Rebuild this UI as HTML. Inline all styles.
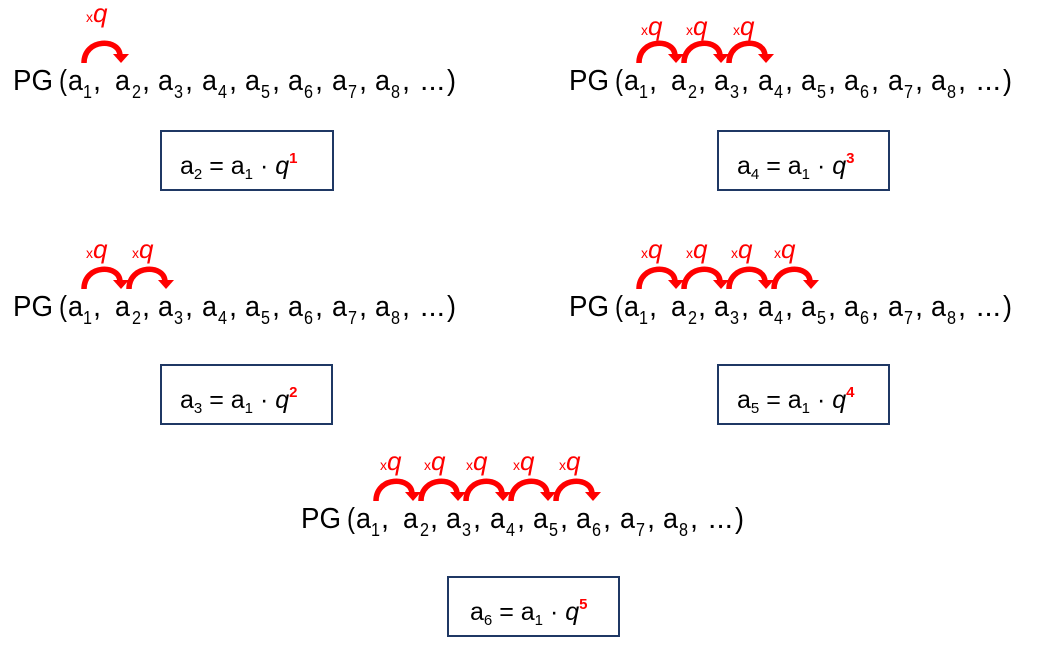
<!DOCTYPE html>
<html><head><meta charset="utf-8"><style>
html,body{margin:0;padding:0;background:#fff;}
svg{display:block;}
text{font-family:"Liberation Sans",Arial,sans-serif;}
</style></head><body>
<svg width="1038" height="666" viewBox="0 0 1038 666" xmlns="http://www.w3.org/2000/svg">
<g fill="#000">
<g transform="translate(12,90)">
<text x="1" y="0" font-size="29" textLength="40" lengthAdjust="spacingAndGlyphs">PG</text>
<text x="47" y="0" font-size="29" textLength="8" lengthAdjust="spacingAndGlyphs">(</text>
<text x="56" y="0" font-size="29" textLength="15" lengthAdjust="spacingAndGlyphs">a</text><text x="71" y="8" font-size="18" textLength="9" lengthAdjust="spacingAndGlyphs">1</text><text x="81" y="0" font-size="29">,</text>
<text x="103" y="0" font-size="29" textLength="15" lengthAdjust="spacingAndGlyphs">a</text><text x="120" y="8" font-size="18" textLength="9" lengthAdjust="spacingAndGlyphs">2</text><text x="130" y="0" font-size="29">,</text>
<text x="146" y="0" font-size="29" textLength="15" lengthAdjust="spacingAndGlyphs">a</text><text x="162" y="8" font-size="18" textLength="9" lengthAdjust="spacingAndGlyphs">3</text><text x="173" y="0" font-size="29">,</text>
<text x="190" y="0" font-size="29" textLength="15" lengthAdjust="spacingAndGlyphs">a</text><text x="206" y="8" font-size="18" textLength="9" lengthAdjust="spacingAndGlyphs">4</text><text x="217" y="0" font-size="29">,</text>
<text x="233" y="0" font-size="29" textLength="15" lengthAdjust="spacingAndGlyphs">a</text><text x="249" y="8" font-size="18" textLength="9" lengthAdjust="spacingAndGlyphs">5</text><text x="260" y="0" font-size="29">,</text>
<text x="276" y="0" font-size="29" textLength="15" lengthAdjust="spacingAndGlyphs">a</text><text x="292" y="8" font-size="18" textLength="9" lengthAdjust="spacingAndGlyphs">6</text><text x="303" y="0" font-size="29">,</text>
<text x="320" y="0" font-size="29" textLength="15" lengthAdjust="spacingAndGlyphs">a</text><text x="336" y="8" font-size="18" textLength="9" lengthAdjust="spacingAndGlyphs">7</text><text x="347" y="0" font-size="29">,</text>
<text x="363" y="0" font-size="29" textLength="15" lengthAdjust="spacingAndGlyphs">a</text><text x="379" y="8" font-size="18" textLength="9" lengthAdjust="spacingAndGlyphs">8</text><text x="390" y="0" font-size="29">,</text>
<text x="408" y="0" font-size="29" textLength="25" lengthAdjust="spacingAndGlyphs">...</text><text x="435" y="0" font-size="29" textLength="9" lengthAdjust="spacingAndGlyphs">)</text>
</g>
<g transform="translate(568,90)">
<text x="1" y="0" font-size="29" textLength="40" lengthAdjust="spacingAndGlyphs">PG</text>
<text x="47" y="0" font-size="29" textLength="8" lengthAdjust="spacingAndGlyphs">(</text>
<text x="56" y="0" font-size="29" textLength="15" lengthAdjust="spacingAndGlyphs">a</text><text x="71" y="8" font-size="18" textLength="9" lengthAdjust="spacingAndGlyphs">1</text><text x="81" y="0" font-size="29">,</text>
<text x="103" y="0" font-size="29" textLength="15" lengthAdjust="spacingAndGlyphs">a</text><text x="120" y="8" font-size="18" textLength="9" lengthAdjust="spacingAndGlyphs">2</text><text x="130" y="0" font-size="29">,</text>
<text x="146" y="0" font-size="29" textLength="15" lengthAdjust="spacingAndGlyphs">a</text><text x="162" y="8" font-size="18" textLength="9" lengthAdjust="spacingAndGlyphs">3</text><text x="173" y="0" font-size="29">,</text>
<text x="190" y="0" font-size="29" textLength="15" lengthAdjust="spacingAndGlyphs">a</text><text x="206" y="8" font-size="18" textLength="9" lengthAdjust="spacingAndGlyphs">4</text><text x="217" y="0" font-size="29">,</text>
<text x="233" y="0" font-size="29" textLength="15" lengthAdjust="spacingAndGlyphs">a</text><text x="249" y="8" font-size="18" textLength="9" lengthAdjust="spacingAndGlyphs">5</text><text x="260" y="0" font-size="29">,</text>
<text x="276" y="0" font-size="29" textLength="15" lengthAdjust="spacingAndGlyphs">a</text><text x="292" y="8" font-size="18" textLength="9" lengthAdjust="spacingAndGlyphs">6</text><text x="303" y="0" font-size="29">,</text>
<text x="320" y="0" font-size="29" textLength="15" lengthAdjust="spacingAndGlyphs">a</text><text x="336" y="8" font-size="18" textLength="9" lengthAdjust="spacingAndGlyphs">7</text><text x="347" y="0" font-size="29">,</text>
<text x="363" y="0" font-size="29" textLength="15" lengthAdjust="spacingAndGlyphs">a</text><text x="379" y="8" font-size="18" textLength="9" lengthAdjust="spacingAndGlyphs">8</text><text x="390" y="0" font-size="29">,</text>
<text x="408" y="0" font-size="29" textLength="25" lengthAdjust="spacingAndGlyphs">...</text><text x="435" y="0" font-size="29" textLength="9" lengthAdjust="spacingAndGlyphs">)</text>
</g>
<g transform="translate(12,316)">
<text x="1" y="0" font-size="29" textLength="40" lengthAdjust="spacingAndGlyphs">PG</text>
<text x="47" y="0" font-size="29" textLength="8" lengthAdjust="spacingAndGlyphs">(</text>
<text x="56" y="0" font-size="29" textLength="15" lengthAdjust="spacingAndGlyphs">a</text><text x="71" y="8" font-size="18" textLength="9" lengthAdjust="spacingAndGlyphs">1</text><text x="81" y="0" font-size="29">,</text>
<text x="103" y="0" font-size="29" textLength="15" lengthAdjust="spacingAndGlyphs">a</text><text x="120" y="8" font-size="18" textLength="9" lengthAdjust="spacingAndGlyphs">2</text><text x="130" y="0" font-size="29">,</text>
<text x="146" y="0" font-size="29" textLength="15" lengthAdjust="spacingAndGlyphs">a</text><text x="162" y="8" font-size="18" textLength="9" lengthAdjust="spacingAndGlyphs">3</text><text x="173" y="0" font-size="29">,</text>
<text x="190" y="0" font-size="29" textLength="15" lengthAdjust="spacingAndGlyphs">a</text><text x="206" y="8" font-size="18" textLength="9" lengthAdjust="spacingAndGlyphs">4</text><text x="217" y="0" font-size="29">,</text>
<text x="233" y="0" font-size="29" textLength="15" lengthAdjust="spacingAndGlyphs">a</text><text x="249" y="8" font-size="18" textLength="9" lengthAdjust="spacingAndGlyphs">5</text><text x="260" y="0" font-size="29">,</text>
<text x="276" y="0" font-size="29" textLength="15" lengthAdjust="spacingAndGlyphs">a</text><text x="292" y="8" font-size="18" textLength="9" lengthAdjust="spacingAndGlyphs">6</text><text x="303" y="0" font-size="29">,</text>
<text x="320" y="0" font-size="29" textLength="15" lengthAdjust="spacingAndGlyphs">a</text><text x="336" y="8" font-size="18" textLength="9" lengthAdjust="spacingAndGlyphs">7</text><text x="347" y="0" font-size="29">,</text>
<text x="363" y="0" font-size="29" textLength="15" lengthAdjust="spacingAndGlyphs">a</text><text x="379" y="8" font-size="18" textLength="9" lengthAdjust="spacingAndGlyphs">8</text><text x="390" y="0" font-size="29">,</text>
<text x="408" y="0" font-size="29" textLength="25" lengthAdjust="spacingAndGlyphs">...</text><text x="435" y="0" font-size="29" textLength="9" lengthAdjust="spacingAndGlyphs">)</text>
</g>
<g transform="translate(568,316)">
<text x="1" y="0" font-size="29" textLength="40" lengthAdjust="spacingAndGlyphs">PG</text>
<text x="47" y="0" font-size="29" textLength="8" lengthAdjust="spacingAndGlyphs">(</text>
<text x="56" y="0" font-size="29" textLength="15" lengthAdjust="spacingAndGlyphs">a</text><text x="71" y="8" font-size="18" textLength="9" lengthAdjust="spacingAndGlyphs">1</text><text x="81" y="0" font-size="29">,</text>
<text x="103" y="0" font-size="29" textLength="15" lengthAdjust="spacingAndGlyphs">a</text><text x="120" y="8" font-size="18" textLength="9" lengthAdjust="spacingAndGlyphs">2</text><text x="130" y="0" font-size="29">,</text>
<text x="146" y="0" font-size="29" textLength="15" lengthAdjust="spacingAndGlyphs">a</text><text x="162" y="8" font-size="18" textLength="9" lengthAdjust="spacingAndGlyphs">3</text><text x="173" y="0" font-size="29">,</text>
<text x="190" y="0" font-size="29" textLength="15" lengthAdjust="spacingAndGlyphs">a</text><text x="206" y="8" font-size="18" textLength="9" lengthAdjust="spacingAndGlyphs">4</text><text x="217" y="0" font-size="29">,</text>
<text x="233" y="0" font-size="29" textLength="15" lengthAdjust="spacingAndGlyphs">a</text><text x="249" y="8" font-size="18" textLength="9" lengthAdjust="spacingAndGlyphs">5</text><text x="260" y="0" font-size="29">,</text>
<text x="276" y="0" font-size="29" textLength="15" lengthAdjust="spacingAndGlyphs">a</text><text x="292" y="8" font-size="18" textLength="9" lengthAdjust="spacingAndGlyphs">6</text><text x="303" y="0" font-size="29">,</text>
<text x="320" y="0" font-size="29" textLength="15" lengthAdjust="spacingAndGlyphs">a</text><text x="336" y="8" font-size="18" textLength="9" lengthAdjust="spacingAndGlyphs">7</text><text x="347" y="0" font-size="29">,</text>
<text x="363" y="0" font-size="29" textLength="15" lengthAdjust="spacingAndGlyphs">a</text><text x="379" y="8" font-size="18" textLength="9" lengthAdjust="spacingAndGlyphs">8</text><text x="390" y="0" font-size="29">,</text>
<text x="408" y="0" font-size="29" textLength="25" lengthAdjust="spacingAndGlyphs">...</text><text x="435" y="0" font-size="29" textLength="9" lengthAdjust="spacingAndGlyphs">)</text>
</g>
<g transform="translate(300,528)">
<text x="1" y="0" font-size="29" textLength="40" lengthAdjust="spacingAndGlyphs">PG</text>
<text x="47" y="0" font-size="29" textLength="8" lengthAdjust="spacingAndGlyphs">(</text>
<text x="56" y="0" font-size="29" textLength="15" lengthAdjust="spacingAndGlyphs">a</text><text x="71" y="8" font-size="18" textLength="9" lengthAdjust="spacingAndGlyphs">1</text><text x="81" y="0" font-size="29">,</text>
<text x="103" y="0" font-size="29" textLength="15" lengthAdjust="spacingAndGlyphs">a</text><text x="120" y="8" font-size="18" textLength="9" lengthAdjust="spacingAndGlyphs">2</text><text x="130" y="0" font-size="29">,</text>
<text x="146" y="0" font-size="29" textLength="15" lengthAdjust="spacingAndGlyphs">a</text><text x="162" y="8" font-size="18" textLength="9" lengthAdjust="spacingAndGlyphs">3</text><text x="173" y="0" font-size="29">,</text>
<text x="190" y="0" font-size="29" textLength="15" lengthAdjust="spacingAndGlyphs">a</text><text x="206" y="8" font-size="18" textLength="9" lengthAdjust="spacingAndGlyphs">4</text><text x="217" y="0" font-size="29">,</text>
<text x="233" y="0" font-size="29" textLength="15" lengthAdjust="spacingAndGlyphs">a</text><text x="249" y="8" font-size="18" textLength="9" lengthAdjust="spacingAndGlyphs">5</text><text x="260" y="0" font-size="29">,</text>
<text x="276" y="0" font-size="29" textLength="15" lengthAdjust="spacingAndGlyphs">a</text><text x="292" y="8" font-size="18" textLength="9" lengthAdjust="spacingAndGlyphs">6</text><text x="303" y="0" font-size="29">,</text>
<text x="320" y="0" font-size="29" textLength="15" lengthAdjust="spacingAndGlyphs">a</text><text x="336" y="8" font-size="18" textLength="9" lengthAdjust="spacingAndGlyphs">7</text><text x="347" y="0" font-size="29">,</text>
<text x="363" y="0" font-size="29" textLength="15" lengthAdjust="spacingAndGlyphs">a</text><text x="379" y="8" font-size="18" textLength="9" lengthAdjust="spacingAndGlyphs">8</text><text x="390" y="0" font-size="29">,</text>
<text x="408" y="0" font-size="29" textLength="25" lengthAdjust="spacingAndGlyphs">...</text><text x="435" y="0" font-size="29" textLength="9" lengthAdjust="spacingAndGlyphs">)</text>
</g>
</g>

<g fill="none" stroke="#f00" stroke-width="5.5">
<path d="M84 63 C84 38 120 38 120 56"/>
<path d="M639 63 C639 38 675 38 675 56"/><path d="M684 63 C684 38 720 38 720 56"/><path d="M729 63 C729 38 765 38 765 56"/>
<path d="M84 289 C84 264 120 264 120 282"/><path d="M129 289 C129 264 165 264 165 282"/>
<path d="M639 289 C639 264 675 264 675 282"/><path d="M684 289 C684 264 720 264 720 282"/><path d="M729 289 C729 264 765 264 765 282"/><path d="M774 289 C774 264 810 264 810 282"/>
<path d="M376 501 C376 476 412 476 412 494"/><path d="M421 501 C421 476 457 476 457 494"/><path d="M466 501 C466 476 502 476 502 494"/><path d="M511 501 C511 476 547 476 547 494"/><path d="M556 501 C556 476 592 476 592 494"/>
</g>
<g fill="#f00">
<polygon points="113,54 129,54 121,63"/>
<polygon points="668,54 684,54 676,63"/><polygon points="713,54 729,54 721,63"/><polygon points="758,54 774,54 766,63"/>
<polygon points="113,280 129,280 121,289"/><polygon points="158,280 174,280 166,289"/>
<polygon points="668,280 684,280 676,289"/><polygon points="713,280 729,280 721,289"/><polygon points="758,280 774,280 766,289"/><polygon points="803,280 819,280 811,289"/>
<polygon points="405,492 421,492 413,501"/><polygon points="450,492 466,492 458,501"/><polygon points="495,492 511,492 503,501"/><polygon points="540,492 556,492 548,501"/><polygon points="585,492 601,492 593,501"/>
</g>
<g fill="#f00" font-size="14">
<text x="86" y="22">x<tspan font-size="26" font-style="italic">q</tspan></text>
<text x="641" y="35">x<tspan font-size="26" font-style="italic">q</tspan></text>
<text x="686" y="35">x<tspan font-size="26" font-style="italic">q</tspan></text>
<text x="733" y="35">x<tspan font-size="26" font-style="italic">q</tspan></text>
<text x="86" y="258">x<tspan font-size="26" font-style="italic">q</tspan></text>
<text x="132" y="258">x<tspan font-size="26" font-style="italic">q</tspan></text>
<text x="641" y="258">x<tspan font-size="26" font-style="italic">q</tspan></text>
<text x="686" y="258">x<tspan font-size="26" font-style="italic">q</tspan></text>
<text x="731" y="258">x<tspan font-size="26" font-style="italic">q</tspan></text>
<text x="774" y="258">x<tspan font-size="26" font-style="italic">q</tspan></text>
<text x="380" y="470">x<tspan font-size="26" font-style="italic">q</tspan></text>
<text x="424" y="470">x<tspan font-size="26" font-style="italic">q</tspan></text>
<text x="466" y="470">x<tspan font-size="26" font-style="italic">q</tspan></text>
<text x="513" y="470">x<tspan font-size="26" font-style="italic">q</tspan></text>
<text x="559" y="470">x<tspan font-size="26" font-style="italic">q</tspan></text>
</g>

<g fill="#fff" stroke="#1f3864" stroke-width="2">
<rect x="161" y="131" width="172" height="59"/>
<rect x="718" y="131" width="171" height="59"/>
<rect x="161" y="365" width="171" height="59"/>
<rect x="718" y="365" width="171" height="59"/>
<rect x="448" y="577" width="171" height="59"/>
</g>
<g font-size="25" fill="#000">
<text x="180" y="174">a<tspan font-size="15" dy="5">2</tspan><tspan dy="-5"> = a</tspan><tspan font-size="15" dy="5">1</tspan><tspan dy="-5"> · </tspan><tspan font-style="italic">q</tspan><tspan fill="#f00" font-weight="bold" font-size="15" dy="-11">1</tspan></text>
<text x="737" y="174">a<tspan font-size="15" dy="5">4</tspan><tspan dy="-5"> = a</tspan><tspan font-size="15" dy="5">1</tspan><tspan dy="-5"> · </tspan><tspan font-style="italic">q</tspan><tspan fill="#f00" font-weight="bold" font-size="15" dy="-11">3</tspan></text>
<text x="180" y="408">a<tspan font-size="15" dy="5">3</tspan><tspan dy="-5"> = a</tspan><tspan font-size="15" dy="5">1</tspan><tspan dy="-5"> · </tspan><tspan font-style="italic">q</tspan><tspan fill="#f00" font-weight="bold" font-size="15" dy="-11">2</tspan></text>
<text x="737" y="408">a<tspan font-size="15" dy="5">5</tspan><tspan dy="-5"> = a</tspan><tspan font-size="15" dy="5">1</tspan><tspan dy="-5"> · </tspan><tspan font-style="italic">q</tspan><tspan fill="#f00" font-weight="bold" font-size="15" dy="-11">4</tspan></text>
<text x="470" y="620">a<tspan font-size="15" dy="5">6</tspan><tspan dy="-5"> = a</tspan><tspan font-size="15" dy="5">1</tspan><tspan dy="-5"> · </tspan><tspan font-style="italic">q</tspan><tspan fill="#f00" font-weight="bold" font-size="15" dy="-11">5</tspan></text>
</g>
</svg>
</body></html>
